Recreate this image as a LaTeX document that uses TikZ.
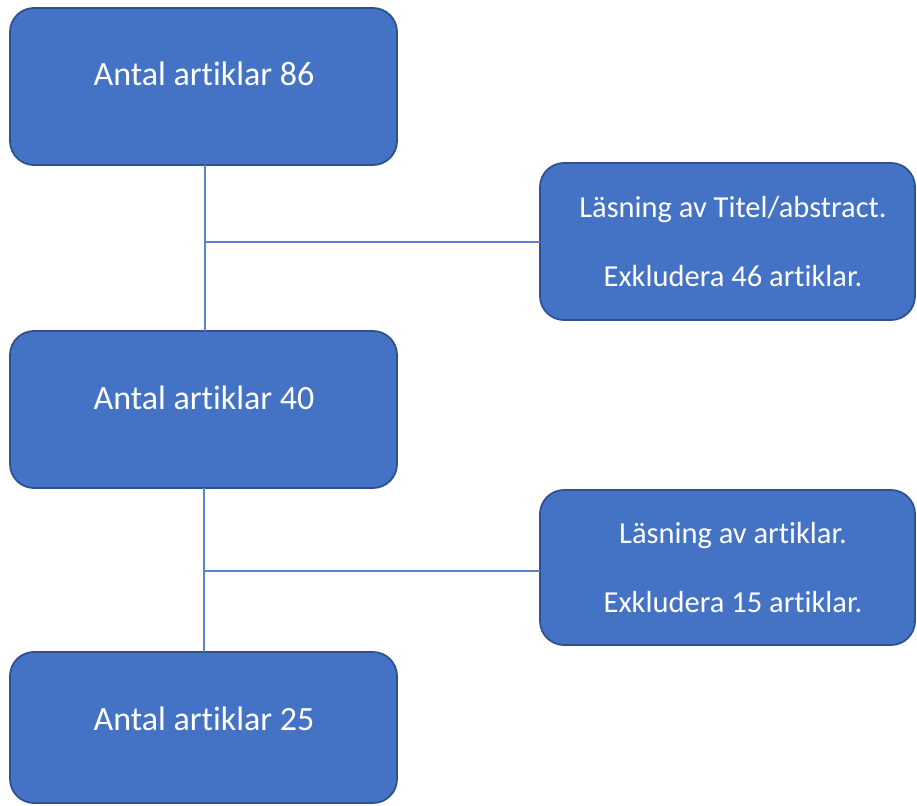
\documentclass[tikz,border=0pt]{standalone}
\usepackage{fontspec}
\setmainfont{Carlito}[Ligatures=NoCommon]
\definecolor{boxfill}{HTML}{4472C4}
\definecolor{boxline}{HTML}{2F528F}
\definecolor{conn}{HTML}{5B82CC}
\begin{document}
\begin{tikzpicture}[x=1pt,y=-1pt,
  box/.style={draw=boxline, line width=1.8pt, fill=boxfill, rounded corners=24pt,
    inner sep=0pt, outer sep=0pt, minimum width=#1},
  box/.default=387pt,
  lbl/.style={text=white, anchor=base, inner sep=0pt, font=\fontsize{34}{40}\selectfont},
  rlbl/.style={text=white, anchor=base, inner sep=0pt, font=\fontsize{30.5}{36}\selectfont},
  conn/.style={draw=conn, line width=1.3pt}]
\useasboundingbox (0,0) rectangle (917,805);
% boxes
\node[box, minimum height=157pt] (b1) at (203.5,86.5) {};
\node[box, minimum height=157pt] (b2) at (203.5,409.5) {};
\node[box, minimum height=151pt] (b3) at (203.5,727.5) {};
\node[box=375pt, minimum height=157pt] (r1) at (727.5,241.5) {};
\node[box=375pt, minimum height=155pt] (r2) at (727.5,567.5) {};
% connectors
\coordinate (j1) at (205,242);
\coordinate (j2) at (204,571);
\draw[conn] (b1.south -| j1) -- (b2.north -| j1);
\draw[conn] (j1) -- (j1 -| r1.west);
\draw[conn] (b2.south -| j2) -- (b3.north -| j2);
\draw[conn] (j2) -- (j2 -| r2.west);
% texts
\node[lbl] (t1) at (204,86) {Antal artiklar 86};
\node[lbl] (t2) at (204,409) {Antal artiklar 40};
\node[lbl] (t3) at (204,730) {Antal artiklar 25};
\node[rlbl] (t4) at (733,217) {Läsning av Titel/abstract.};
\node[rlbl] (t5) at (733,286) {Exkludera 46 artiklar.};
\node[rlbl] (t6) at (733,543) {Läsning av artiklar.};
\node[rlbl] (t7) at (733,612) {Exkludera 15 artiklar.};
\end{tikzpicture}
\end{document}
